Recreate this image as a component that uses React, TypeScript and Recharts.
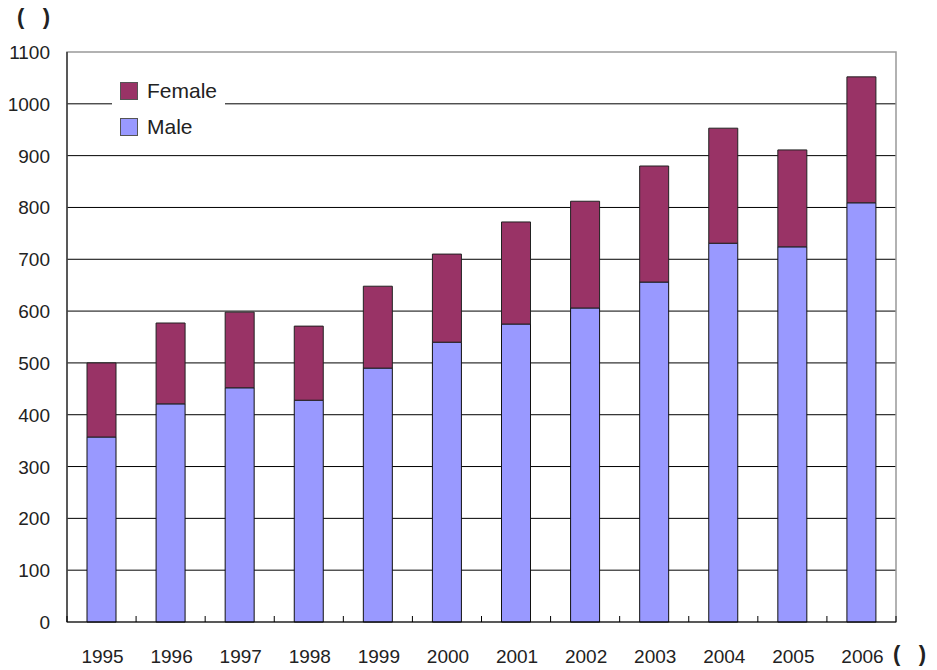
import { BarChart, Bar, XAxis, YAxis, CartesianGrid, ReferenceArea } from "recharts";

const years = ["1995", "1996", "1997", "1998", "1999", "2000", "2001", "2002", "2003", "2004", "2005", "2006"];
const male = [357, 421, 452, 428, 490, 540, 575, 606, 656, 731, 724, 809];
const female = [143, 156, 146, 143, 158, 170, 197, 206, 224, 222, 187, 243];
const yTicks = [0, 100, 200, 300, 400, 500, 600, 700, 800, 900, 1000, 1100];

const data = years.map((year, i) => ({ year, male: male[i], female: female[i] }));

const FONT = "'Liberation Sans', Arial, sans-serif";
const PLOT_LEFT = 67;
const PLOT_RIGHT = 896;
const PLOT_BOTTOM = 622;
const CAT_W = (PLOT_RIGHT - PLOT_LEFT) / years.length;

const XTick = (props: any) => {
  const { x, payload, index } = props;
  const bx = x - CAT_W / 2;
  return (
    <g>
      <line x1={bx} y1={PLOT_BOTTOM} x2={bx} y2={PLOT_BOTTOM - 6} stroke="#000" />
      {index === years.length - 1 && (
        <line x1={bx + CAT_W} y1={PLOT_BOTTOM} x2={bx + CAT_W} y2={PLOT_BOTTOM - 6} stroke="#000" />
      )}
      <text x={x + 1} y={663} textAnchor="middle" fontSize={19} fontFamily={FONT} fill="#222">
        {payload.value}
      </text>
    </g>
  );
};

const YTick = (props: any) => {
  const { y, payload } = props;
  return (
    <text x={50} y={y + 7} textAnchor="end" fontSize={19} fontFamily={FONT} fill="#222">
      {payload.value}
    </text>
  );
};

const legendItems = [
  { name: "Female", color: "#993366" },
  { name: "Male", color: "#9999ff" },
];

export default function App() {
  return (
    <div style={{ position: "absolute", left: 0, top: 0, width: 937, height: 670, background: "#fff" }}>
      <BarChart width={937} height={670} data={data} margin={{ top: 52, right: 41, left: 0, bottom: 0 }} barSize={29}>
        <CartesianGrid vertical={false} stroke="#000" horizontalValues={[100, 200, 300, 400, 500, 600, 700, 800, 900, 1000]} />
        <ReferenceArea y1={0} y2={1100} fill="none" stroke="#999" strokeWidth={1.5} />
        <XAxis dataKey="year" height={48} stroke="#000" tickLine={false} tick={<XTick />} interval={0} />
        <YAxis width={67} domain={[0, 1100]} ticks={yTicks} stroke="#000" tickLine={false} tick={<YTick />} interval={0} />
        <Bar dataKey="male" stackId="a" fill="#9999ff" stroke="#111" strokeWidth={1} isAnimationActive={false} />
        <Bar dataKey="female" stackId="a" fill="#993366" stroke="#222" strokeWidth={1} isAnimationActive={false} />
      </BarChart>
      <div style={{ position: "absolute", left: 17, top: 4, fontFamily: FONT, fontSize: 22, fontWeight: "bold", color: "#222", whiteSpace: "pre" }}>(   )</div>
      <div style={{ position: "absolute", left: 893, top: 641, fontFamily: FONT, fontSize: 22, fontWeight: "bold", color: "#222", whiteSpace: "pre" }}>(   )</div>
      <div style={{ position: "absolute", left: 112, top: 73, background: "#fff", padding: "0 8px", fontFamily: FONT, fontSize: 21, color: "#222", lineHeight: "36px" }}>
        {legendItems.map((it) => (
          <div key={it.name} style={{ display: "flex", alignItems: "center" }}>
            <span style={{ width: 16, height: 16, background: it.color, border: "1px solid #555", marginRight: 9, display: "inline-block" }} />
            {it.name}
          </div>
        ))}
      </div>
    </div>
  );
}
